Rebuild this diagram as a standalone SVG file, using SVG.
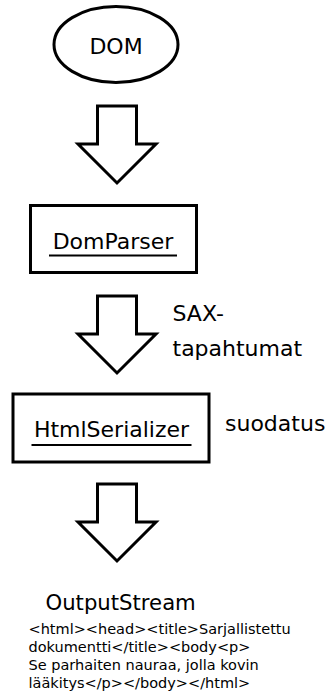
<svg xmlns="http://www.w3.org/2000/svg" width="330" height="696" viewBox="0 0 330 696">
  <defs>
    <style>
      .shape { fill: #fff; stroke: #000; stroke-width: 3; }
      .arrow { fill: #fff; stroke: #000; stroke-width: 3; stroke-linejoin: miter; }
      .label { font-family: "DejaVu Sans", sans-serif; font-size: 22px; fill: #000; }
      .code { font-family: "DejaVu Sans", sans-serif; font-size: 14.5px; fill: #000; }
      .uline { stroke: #000; stroke-width: 2; }
    </style>
    <path id="bigArrow" d="M97.5,106 H136.5 V144 H156 L117,183 L78,144 H97.5 Z"/>
  </defs>

  <rect width="330" height="696" fill="#fff"/>

  <g id="dom">
    <ellipse class="shape" cx="116" cy="44.5" rx="62" ry="38"/>
    <text class="label" x="116" y="54" text-anchor="middle">DOM</text>
  </g>

  <g id="domparser">
    <rect class="shape" x="30.5" y="205.5" width="166" height="67"/>
    <text class="label" x="113" y="249" text-anchor="middle">DomParser</text>
    <line class="uline" x1="49" y1="255.5" x2="177" y2="255.5"/>
  </g>

  <g id="htmlserializer">
    <rect class="shape" x="13" y="394" width="196" height="68"/>
    <text class="label" x="111.5" y="437" text-anchor="middle">HtmlSerializer</text>
    <line class="uline" x1="31.5" y1="445" x2="191.5" y2="445"/>
  </g>

  <g id="outputstream">
    <text class="label" x="45.5" y="610" style="font-size:21.2px">OutputStream</text>
    <text class="code" x="28.5" y="634">&lt;html&gt;&lt;head&gt;&lt;title&gt;Sarjallistettu</text>
    <text class="code" x="28.5" y="652">dokumentti&lt;/title&gt;&lt;body&lt;p&gt;</text>
    <text class="code" x="28.5" y="670">Se parhaiten nauraa, jolla kovin</text>
    <text class="code" x="28.5" y="688">lääkitys&lt;/p&gt;&lt;/body&gt;&lt;/html&gt;</text>
  </g>

  <g id="connectors">
    <use href="#bigArrow" class="arrow"/>
    <use href="#bigArrow" class="arrow" transform="translate(0,190)"/>
    <use href="#bigArrow" class="arrow" transform="translate(0,378)"/>
    <text class="label" x="172.5" y="321">SAX-</text>
    <text class="label" x="172.5" y="356">tapahtumat</text>
    <text class="label" x="225" y="431">suodatus</text>
  </g>
</svg>
